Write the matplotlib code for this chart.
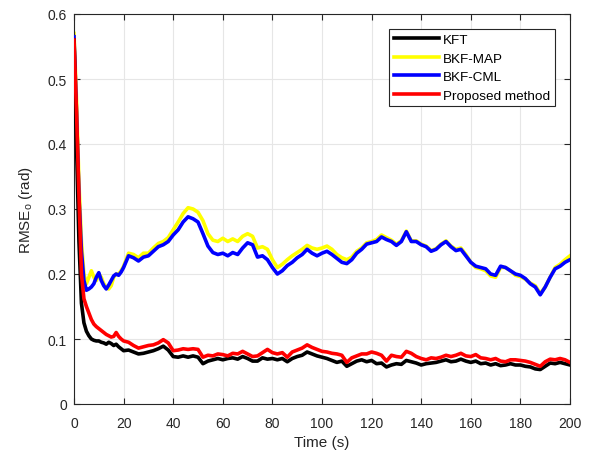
import matplotlib
matplotlib.use("Agg")
import matplotlib.pyplot as plt

# time grid (s): 1 s steps to 20 s, then 2 s steps
t = list(range(0, 21)) + list(range(22, 201, 2))

kft = [0.56, 0.4, 0.25, 0.155, 0.125, 0.112, 0.105, 0.1, 0.098, 0.097, 0.097,
       0.095, 0.094, 0.092, 0.095, 0.093, 0.09, 0.092, 0.088, 0.085, 0.082,
       0.083, 0.08, 0.077, 0.078, 0.08, 0.082, 0.085, 0.089, 0.083, 0.073,
       0.072, 0.074, 0.072, 0.074, 0.072, 0.062, 0.066, 0.068, 0.07, 0.068,
       0.07, 0.071, 0.069, 0.073, 0.07, 0.066, 0.066, 0.071, 0.069, 0.07,
       0.068, 0.07, 0.065, 0.07, 0.073, 0.075, 0.08, 0.077, 0.074, 0.072,
       0.07, 0.067, 0.064, 0.066, 0.058, 0.062, 0.066, 0.068, 0.065, 0.067,
       0.062, 0.063, 0.057, 0.06, 0.062, 0.061, 0.067, 0.065, 0.063, 0.06,
       0.062, 0.063, 0.064, 0.066, 0.068, 0.065, 0.066, 0.069, 0.066, 0.064,
       0.066, 0.062, 0.063, 0.06, 0.062, 0.059, 0.06, 0.062, 0.06, 0.06,
       0.058, 0.057, 0.054, 0.053, 0.058, 0.063, 0.062, 0.064, 0.062, 0.06]

bkf_map = [0.57, 0.47, 0.34, 0.25, 0.2, 0.185, 0.195, 0.205, 0.195, 0.19, 0.2,
           0.195, 0.185, 0.18, 0.177, 0.182, 0.195, 0.2, 0.2, 0.205, 0.212,
           0.232, 0.23, 0.225, 0.232, 0.232, 0.24, 0.247, 0.25, 0.256, 0.268,
           0.28, 0.293, 0.302, 0.3, 0.295, 0.282, 0.262, 0.252, 0.25, 0.255,
           0.25, 0.254, 0.25, 0.258, 0.262, 0.258, 0.24, 0.242, 0.238, 0.222,
           0.21, 0.215, 0.222, 0.228, 0.233, 0.238, 0.244, 0.24, 0.238, 0.24,
           0.243, 0.238, 0.23, 0.225, 0.222, 0.226, 0.235, 0.24, 0.248, 0.25,
           0.253, 0.26, 0.256, 0.252, 0.246, 0.251, 0.266, 0.251, 0.251, 0.246,
           0.243, 0.236, 0.239, 0.246, 0.251, 0.243, 0.238, 0.24, 0.23, 0.218,
           0.21, 0.208, 0.205, 0.197, 0.195, 0.21, 0.21, 0.205, 0.198, 0.196,
           0.192, 0.186, 0.182, 0.17, 0.18, 0.195, 0.21, 0.215, 0.222, 0.228]

bkf_cml = [0.565, 0.45, 0.32, 0.235, 0.19, 0.175, 0.177, 0.18, 0.185, 0.195, 0.202,
           0.19, 0.182, 0.177, 0.183, 0.19, 0.197, 0.2, 0.198, 0.203, 0.21,
           0.228, 0.225, 0.22, 0.226, 0.228, 0.235, 0.242, 0.245, 0.25, 0.26,
           0.268, 0.28, 0.288, 0.285, 0.28, 0.262, 0.243, 0.233, 0.23, 0.232,
           0.228, 0.233, 0.23, 0.24, 0.248, 0.245, 0.226, 0.228, 0.222, 0.21,
           0.2, 0.205, 0.213, 0.218, 0.225, 0.23, 0.238, 0.232, 0.228, 0.232,
           0.235, 0.23, 0.224, 0.218, 0.216, 0.222, 0.232, 0.238, 0.246, 0.248,
           0.25, 0.257, 0.253, 0.25, 0.244, 0.25, 0.265, 0.25, 0.25, 0.245,
           0.242, 0.235, 0.238, 0.245, 0.25, 0.242, 0.236, 0.238, 0.228, 0.218,
           0.212, 0.21, 0.208, 0.2, 0.198, 0.212, 0.21, 0.205, 0.2, 0.198,
           0.193, 0.185, 0.18, 0.168, 0.18, 0.195, 0.208, 0.212, 0.218, 0.222]

proposed = [0.56, 0.45, 0.32, 0.2, 0.162, 0.15, 0.14, 0.13, 0.123, 0.119, 0.116,
            0.113, 0.11, 0.107, 0.105, 0.103, 0.104, 0.11, 0.104, 0.1, 0.097,
            0.095, 0.09, 0.086, 0.088, 0.09, 0.091, 0.094, 0.099, 0.094, 0.082,
            0.083, 0.085, 0.084, 0.085, 0.084, 0.072, 0.075, 0.074, 0.077, 0.076,
            0.074, 0.078, 0.077, 0.081, 0.077, 0.073, 0.074, 0.079, 0.084, 0.079,
            0.077, 0.079, 0.072, 0.08, 0.083, 0.086, 0.091, 0.087, 0.084, 0.081,
            0.08, 0.078, 0.077, 0.075, 0.064, 0.071, 0.074, 0.077, 0.077, 0.08,
            0.078, 0.075, 0.066, 0.075, 0.073, 0.072, 0.081, 0.078, 0.073, 0.07,
            0.068, 0.071, 0.07, 0.072, 0.075, 0.073, 0.075, 0.078, 0.074, 0.073,
            0.076, 0.071, 0.07, 0.068, 0.07, 0.066, 0.065, 0.068, 0.068, 0.067,
            0.066, 0.064, 0.061, 0.058, 0.065, 0.069, 0.068, 0.07, 0.068, 0.064]


def main():
    plt.rcParams['font.family'] = ['Liberation Sans', 'DejaVu Sans']
    plt.rcParams['mathtext.fontset'] = 'custom'
    plt.rcParams['mathtext.rm'] = 'Liberation Sans'
    plt.rcParams['mathtext.it'] = 'Liberation Sans:italic'

    fig = plt.figure(figsize=(5.98, 4.56), dpi=100)
    ax = fig.add_axes([74 / 598, 51 / 456, 496 / 598, 390 / 456])

    lw = 2.6
    l_kft, = ax.plot(t, kft, color='black', lw=lw, zorder=4, label='KFT')
    l_map, = ax.plot(t, bkf_map, color='#ffff00', lw=lw, zorder=2, label='BKF-MAP')
    l_cml, = ax.plot(t, bkf_cml, color='#0000ff', lw=lw, zorder=3, label='BKF-CML')
    l_pro, = ax.plot(t, proposed, color='#ff0000', lw=lw, zorder=5, label='Proposed method')

    ax.set_xlim(0, 200)
    ax.set_ylim(0, 0.6)
    ax.set_xticks(range(0, 201, 20))
    ax.set_yticks([0, 0.1, 0.2, 0.3, 0.4, 0.5, 0.6])
    ax.set_yticklabels(['0', '0.1', '0.2', '0.3', '0.4', '0.5', '0.6'])
    ax.grid(True, color='#e6e6e6', lw=0.8)
    ax.set_axisbelow(True)
    ax.tick_params(direction='in', top=True, right=True, length=4,
                   labelsize=10, colors='#262626', width=0.8)
    ax.tick_params(axis='x', pad=9)
    ax.tick_params(axis='y', pad=5)
    for s in ax.spines.values():
        s.set_color('#262626')
        s.set_linewidth(0.8)

    ax.set_xlabel('Time (s)', fontsize=11, color='#262626', labelpad=3)
    ax.set_ylabel(r'RMSE$_\mathrm{o}$ (rad)', fontsize=11, color='#262626', labelpad=9)

    leg = ax.legend(handles=[l_kft, l_map, l_cml, l_pro], loc='upper right',
                    bbox_to_anchor=(0.970, 0.9615), fontsize=9.7, frameon=True,
                    fancybox=False, edgecolor='#262626', framealpha=1,
                    handlelength=3.3, handletextpad=0.35, labelspacing=0.45,
                    borderpad=0.35, borderaxespad=0.0)
    leg.get_frame().set_linewidth(0.8)

    fig.savefig('out.png', dpi=100)


if __name__ == '__main__':
    main()
